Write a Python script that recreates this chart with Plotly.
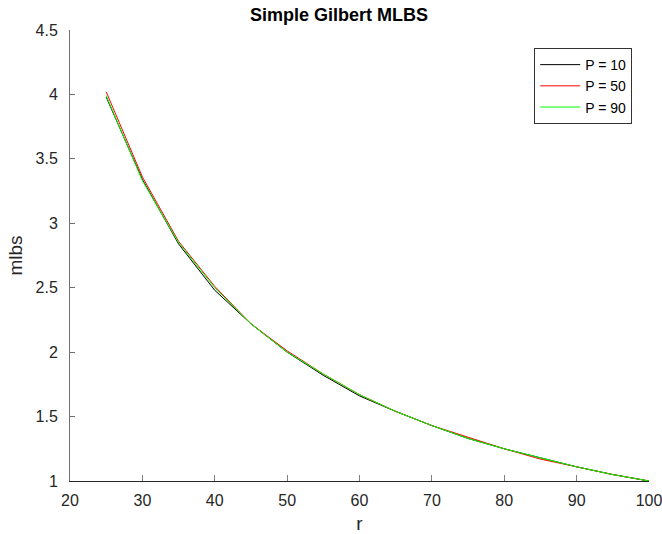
import plotly.graph_objects as go

# Sweep of r values and mean MLBS for each P setting
r_vals = [25, 30, 35, 40, 45, 50, 55, 60, 65, 70, 75, 80, 85, 90, 95, 100]
mlbs_p10 = [3.98, 3.34, 2.84, 2.48, 2.22, 2.00, 1.82, 1.66, 1.54, 1.43, 1.33, 1.25, 1.18, 1.11, 1.05, 1.00]
mlbs_p50 = [4.02, 3.36, 2.86, 2.51, 2.22, 2.01, 1.83, 1.67, 1.54, 1.43, 1.34, 1.25, 1.17, 1.11, 1.05, 1.00]
mlbs_p90 = [3.99, 3.33, 2.85, 2.50, 2.22, 2.00, 1.83, 1.67, 1.54, 1.43, 1.33, 1.25, 1.18, 1.11, 1.05, 1.00]

series = [
    ("P = 10", mlbs_p10, "#000000"),
    ("P = 50", mlbs_p50, "#ff0000"),
    ("P = 90", mlbs_p90, "#00ff00"),
]

x_ticks = [20, 30, 40, 50, 60, 70, 80, 90, 100]
y_ticks = [1, 1.5, 2, 2.5, 3, 3.5, 4, 4.5]

fig = go.Figure()
for name, vals, color in series:
    fig.add_trace(go.Scatter(x=r_vals, y=vals, mode="lines", name=name,
                             line=dict(color=color, width=1)))

font_family = "Liberation Sans, Arial, sans-serif"
tick_font = dict(family=font_family, size=16, color="#262626")
label_font = dict(family=font_family, size=19, color="#262626")

fig.update_layout(
    width=662, height=534,
    margin=dict(l=70, r=13, t=30, b=53),
    paper_bgcolor="white", plot_bgcolor="white",
    title=dict(text="<b>Simple Gilbert MLBS</b>", x=0.512, xanchor="center",
               y=0.972, yanchor="middle",
               font=dict(family=font_family, size=18, color="#000000")),
    xaxis=dict(range=[20, 100], tickvals=x_ticks, automargin=False,
               showgrid=False, zeroline=False, showline=True,
               linecolor="#262626", linewidth=1,
               ticks="inside", ticklen=6, tickcolor="#808080",
               tickfont=tick_font, ticklabelstandoff=5,
               ticklabeloverflow="allow",
               title=dict(text="r", font=label_font, standoff=11)),
    yaxis=dict(range=[1, 4.5], tickvals=y_ticks, automargin=False,
               showgrid=False, zeroline=False, showline=True,
               linecolor="#707070", linewidth=1,
               ticks="inside", ticklen=5, tickcolor="#707070",
               tickfont=tick_font, ticklabelstandoff=8,
               ticklabeloverflow="allow",
               title=dict(text="mlbs", font=label_font, standoff=7)),
    legend=dict(x=0.971, y=0.960, xanchor="right", yanchor="top",
                bordercolor="#333333", borderwidth=1, bgcolor="white",
                font=dict(family=font_family, size=14, color="#000000"),
                tracegroupgap=0, itemwidth=40),
    showlegend=True,
)

fig.write_html("out.html")
